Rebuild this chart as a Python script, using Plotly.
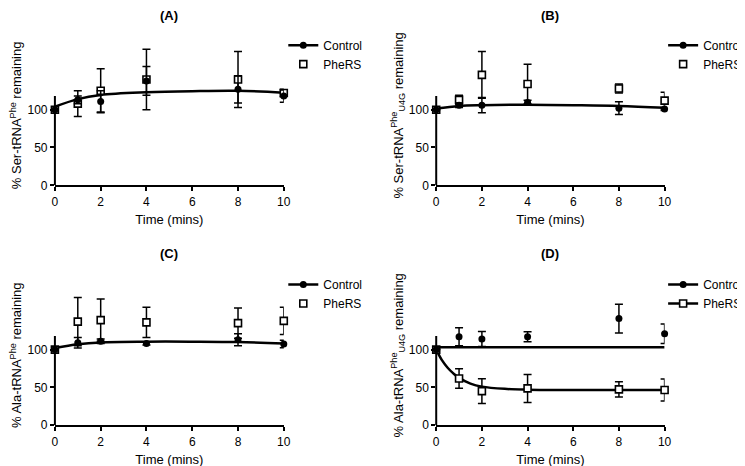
import plotly.graph_objects as go

# time points (mins)
t = [0, 1, 2, 4, 8, 10]

# (A) Ser-tRNA Phe
a_ctrl = [100, 113, 111, 138, 127, 118]
a_ctrl_err = [0, 5, 14, 19, 18, 8]
a_phe = [100, 108, 125, 140, 140, 122]
a_phe_err = [0, 17, 29, 40, 37, 5]
a_fit_t = [0, 1, 2, 4, 6, 8, 10]
a_fit = [104, 114, 119.5, 123, 124.5, 125, 122.5]

# (B) Ser-tRNA Phe U4G
b_ctrl = [100, 106, 106, 109.5, 102, 101]
b_ctrl_err = [0, 3, 10, 3, 8.5, 2]
b_phe = [100, 113, 146, 134, 128, 112]
b_phe_err = [0, 6, 31, 26, 6, 11]
b_fit_t = [0, 1, 2, 4, 6, 8, 10]
b_fit = [101.5, 105, 106, 106.5, 106, 105, 102.5]

# (C) Ala-tRNA Phe
c_ctrl = [100, 109, 111, 108, 113, 107.5]
c_ctrl_err = [0, 7, 3, 2, 8, 5]
c_phe = [100, 137, 139, 136, 135, 138]
c_phe_err = [0, 32, 28, 20, 20, 18]
c_fit_t = [0, 1, 2, 4, 6, 8, 10]
c_fit = [102, 107, 109.5, 110.5, 110.5, 110, 108]

# (D) Ala-tRNA Phe U4G
d_ctrl = [100, 117, 114, 117, 141, 121]
d_ctrl_err = [0, 12, 10, 6.5, 19, 13]
d_phe = [100, 61.7, 45, 48.6, 47.4, 46.5]
d_phe_err = [0, 13, 16.5, 18.5, 10, 14.5]
d_ctrl_fit_t = [0, 10]
d_ctrl_fit = [103, 103]
d_phe_fit_t = [0, 0.25, 0.5, 0.75, 1, 1.5, 2, 3, 4, 6, 8, 10]
d_phe_fit = [100, 86, 76, 68.5, 62.5, 55, 51, 48, 47, 46.5, 46.5, 46.5]

panel_titles = ["(A)", "(B)", "(C)", "(D)"]
y_titles = [
    "% Ser-tRNA<sup>Phe</sup> remaining",
    "% Ser-tRNA<sup>Phe</sup><sub>U4G</sub> remaining",
    "% Ala-tRNA<sup>Phe</sup> remaining",
    "% Ala-tRNA<sup>Phe</sup><sub>U4G</sub> remaining",
]

W, H = 745, 466
FONT = "Arial, Liberation Sans, sans-serif"
BLACK = "#000000"

# pixel boxes of each plot area: (left, right, top, bottom)
boxes = [(44.5, 276.5, 38, 180), (431, 662.5, 38, 180),
         (44.5, 276.5, 281.6, 423.5), (431, 662.5, 281.6, 423.5)]
legend_pos = [(276, 23), (661, 23), (276, 266), (661, 266)]
title_y = [8, 8, 249, 249]
YMAX = 185
YAXIS_TOP = 118

panels = [
    (a_ctrl, a_ctrl_err, a_phe, a_phe_err, [(a_fit_t, a_fit, "ctrl")]),
    (b_ctrl, b_ctrl_err, b_phe, b_phe_err, [(b_fit_t, b_fit, "ctrl")]),
    (c_ctrl, c_ctrl_err, c_phe, c_phe_err, [(c_fit_t, c_fit, "ctrl")]),
    (d_ctrl, d_ctrl_err, d_phe, d_phe_err,
     [(d_ctrl_fit_t, d_ctrl_fit, "ctrl"), (d_phe_fit_t, d_phe_fit, "phe")]),
]

fig = go.Figure()
layout = dict(
    width=W, height=H,
    margin=dict(l=0, r=0, t=0, b=0),
    paper_bgcolor="white", plot_bgcolor="white",
    font=dict(family=FONT, size=12, color=BLACK),
    showlegend=True,
)
annotations = []
shapes = []

for i, (ctrl, ctrl_err, phe, phe_err, fits) in enumerate(panels):
    n = "" if i == 0 else str(i + 1)
    xa, ya = "x" + n, "y" + n
    leg = "legend" + n
    left, right, top, bottom = boxes[i]
    has_phe_fit = any(kind == "phe" for _, _, kind in fits)

    # fitted curves
    for ft, fy, kind in fits:
        fig.add_trace(go.Scatter(
            x=ft, y=fy, mode="lines", line=dict(color=BLACK, width=2.5, shape="spline"),
            xaxis=xa, yaxis=ya, showlegend=False, hoverinfo="skip"))

    # PheRS (open squares)
    fig.add_trace(go.Scatter(
        x=t, y=phe, mode="markers", name="PheRS",
        marker=dict(symbol="square", size=7, color="white", line=dict(color=BLACK, width=1.6)),
        error_y=dict(type="data", array=phe_err, color=BLACK, thickness=1.5, width=4),
        cliponaxis=False, xaxis=xa, yaxis=ya, showlegend=False))
    # Control (filled circles)
    fig.add_trace(go.Scatter(
        x=t, y=ctrl, mode="markers", name="Control",
        marker=dict(symbol="circle", size=7, color=BLACK),
        error_y=dict(type="data", array=ctrl_err, color=BLACK, thickness=1.5, width=4),
        cliponaxis=False, xaxis=xa, yaxis=ya, showlegend=False))

    # legend entries
    fig.add_trace(go.Scatter(
        x=[None], y=[None], mode="lines+markers", name="Control",
        line=dict(color=BLACK, width=2.5), marker=dict(symbol="circle", size=7, color=BLACK),
        xaxis=xa, yaxis=ya, legend=leg))
    fig.add_trace(go.Scatter(
        x=[None], y=[None], mode="lines+markers" if has_phe_fit else "markers", name="PheRS",
        line=dict(color=BLACK, width=2.5),
        marker=dict(symbol="square", size=7, color="white", line=dict(color=BLACK, width=1.6)),
        xaxis=xa, yaxis=ya, legend=leg))

    lx, ly = legend_pos[i]
    layout[leg] = dict(x=lx / W, y=1 - ly / H, xanchor="left", yanchor="top",
                       bgcolor="rgba(0,0,0,0)", font=dict(size=12, family=FONT),
                       tracegroupgap=0, itemwidth=30)

    layout["xaxis" + n] = dict(
        domain=[left / W, right / W], anchor=ya, range=[0, 10],
        tickvals=[0, 2, 4, 6, 8, 10], ticks="outside", ticklen=4, tickwidth=2,
        tickcolor=BLACK, showline=True, linewidth=2, linecolor=BLACK,
        showgrid=False, zeroline=False, tickfont=dict(size=12),
        title=dict(text="Time (mins)", font=dict(size=13), standoff=7))
    layout["yaxis" + n] = dict(
        domain=[1 - bottom / H, 1 - top / H], anchor=xa, range=[0, YMAX],
        tickvals=[0, 50, 100], ticks="outside", ticklen=4, tickwidth=2,
        tickcolor=BLACK, showline=False, showgrid=False, zeroline=False,
        tickfont=dict(size=12),
        title=dict(text=y_titles[i], font=dict(size=13), standoff=2))

    # y axis line stops short of the top, as in the original
    shapes.append(dict(type="line", xref=xa + " domain", yref=ya,
                       x0=0, x1=0, y0=0, y1=YAXIS_TOP,
                       line=dict(color=BLACK, width=2)))

    annotations.append(dict(
        text="<b>%s</b>" % panel_titles[i], xref="paper", yref="paper",
        x=(left + right) / 2 / W, y=1 - title_y[i] / H,
        xanchor="center", yanchor="middle", showarrow=False,
        font=dict(size=13, family=FONT)))

layout["annotations"] = annotations
layout["shapes"] = shapes
fig.update_layout(**layout)

fig.write_html("out.html")
